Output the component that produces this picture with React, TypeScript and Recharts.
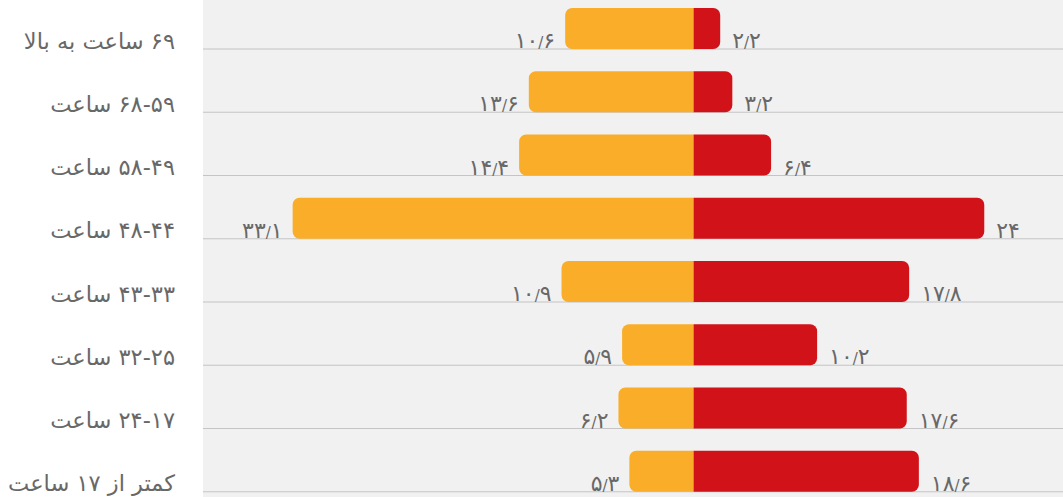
import { Bar, BarChart, CartesianGrid, Rectangle, XAxis, YAxis } from "recharts";

const categories = [
  "۶۹ ساعت به بالا",
  "۶۸-۵۹ ساعت",
  "۵۸-۴۹ ساعت",
  "۴۸-۴۴ ساعت",
  "۴۳-۳۳ ساعت",
  "۳۲-۲۵ ساعت",
  "۲۴-۱۷ ساعت",
  "کمتر از ۱۷ ساعت",
];

// orange series is drawn to the left of zero
const orangeValues = [10.6, 13.6, 14.4, 33.1, 10.9, 5.9, 6.2, 5.3];
const redValues = [2.2, 3.2, 6.4, 24, 17.8, 10.2, 17.6, 18.6];

const xDomain = [-40.5, 30.5];

const data = categories.map((name, i) => ({
  name,
  orange: -orangeValues[i],
  red: redValues[i],
}));

const ORANGE = "#f9ad28";
const RED = "#d11219";
const TEXT = "#686868";
const FONT = "'DejaVu Sans', sans-serif";

const persianDigits = "۰۱۲۳۴۵۶۷۸۹";
const toPersian = (s: string) => s.replace(/[0-9]/g, (d) => persianDigits[Number(d)]);

function valueText(v: number) {
  const [whole, frac] = String(Math.abs(v)).split(".");
  return (
    <>
      {toPersian(whole)}
      {frac !== undefined && <tspan fontSize={15}>/</tspan>}
      {frac !== undefined && toPersian(frac)}
    </>
  );
}

function makeShape(side: "left" | "right", color: string) {
  return (props: any) => {
    const { x, y, width, height, payload } = props;
    const left = Math.min(x, x + width);
    const w = Math.abs(width);
    const r = 7;
    const value = side === "left" ? payload.orange : payload.red;
    const labelX = side === "left" ? left - 10 : left + w + 12;
    return (
      <g>
        <Rectangle
          x={left}
          y={y}
          width={w}
          height={height}
          fill={color}
          radius={side === "left" ? [r, 0, 0, r] : [0, r, r, 0]}
        />
        <text
          x={labelX}
          y={y + height - 1}
          textAnchor={side === "left" ? "end" : "start"}
          fill={TEXT}
          fontSize={22}
          fontFamily={FONT}
        >
          {valueText(value)}
        </text>
      </g>
    );
  };
}

const rowLine = (p: any) => (
  <line
    key={`row-${p.index}`}
    x1={p.x}
    x2={p.x + p.width}
    y1={p.y + p.height}
    y2={p.y + p.height}
    stroke="#c4c4c4"
    strokeWidth={1.2}
  />
);

const CategoryTick = ({ x, y, payload }: any) => (
  <text x={x} y={y + 20} textAnchor="end" fill={TEXT} fontSize={22.5} fontFamily={FONT}>
    {"\u202B" + payload.value + "\u202C"}
  </text>
);

export default function App() {
  return (
    <div
      style={{
        position: "absolute",
        left: 0,
        top: 0,
        width: 1063,
        height: 497,
        overflow: "hidden",
        background: "#ffffff",
      }}
    >
      <div style={{ marginTop: -3 }}>
        <BarChart
          width={1063}
          height={506}
          data={data}
          layout="vertical"
          stackOffset="sign"
          barSize={41}
          margin={{ top: 0, right: 0, bottom: 0, left: 0 }}
        >
          <CartesianGrid horizontal={false} vertical={false} fill="#f1f1f1" stroke="none" />
          <XAxis type="number" domain={xDomain} hide />
          <YAxis
            type="category"
            dataKey="name"
            width={203}
            axisLine={false}
            tickLine={false}
            tickSize={0}
            tickMargin={28}
            tick={<CategoryTick />}
            interval={0}
          />
          <Bar
            dataKey="orange"
            stackId="a"
            fill={ORANGE}
            background={rowLine}
            shape={makeShape("left", ORANGE)}
            isAnimationActive={false}
          />
          <Bar
            dataKey="red"
            stackId="a"
            fill={RED}
            shape={makeShape("right", RED)}
            isAnimationActive={false}
          />
        </BarChart>
      </div>
    </div>
  );
}
